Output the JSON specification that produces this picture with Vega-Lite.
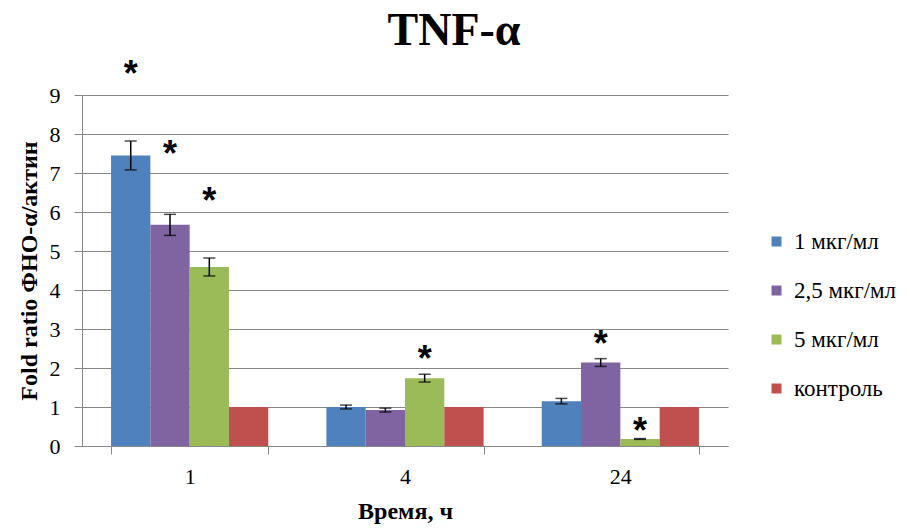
{
  "$schema": "https://vega.github.io/schema/vega-lite/v6.json",
  "width": 646,
  "height": 351,
  "autosize": {"type": "none"},
  "padding": {"left": 82, "top": 95, "right": 182, "bottom": 82},
  "background": "white",
  "config": {
    "view": {"stroke": null},
    "font": "Liberation Serif",
    "legend": {"labelFont": "Liberation Serif", "labelFontSize": 23, "labelColor": "black"},
    "axis": {
      "labelFont": "Liberation Serif",
      "titleFont": "Liberation Serif",
      "labelFontSize": 22,
      "labelColor": "black",
      "titleFontSize": 24,
      "titleFontWeight": "bold",
      "titleColor": "black",
      "tickSize": 8,
      "tickColor": "#878787",
      "domainColor": "#878787"
    }
  },
  "title": {
    "text": "TNF-α",
    "font": "Liberation Serif",
    "fontSize": 46,
    "fontWeight": "bold",
    "color": "black",
    "anchor": "middle",
    "frame": "group",
    "dx": 49,
    "offset": 2
  },
  "data": {
    "values": [
      {"time": "1", "group": "1 мкг/мл", "value": 7.45, "lo": 7.08, "hi": 7.82, "star": 9.77},
      {"time": "1", "group": "2,5 мкг/мл", "value": 5.67, "lo": 5.4, "hi": 5.94, "star": 7.72},
      {"time": "1", "group": "5 мкг/мл", "value": 4.59, "lo": 4.36, "hi": 4.82, "star": 6.51},
      {"time": "1", "group": "контроль", "value": 1.0, "lo": null, "hi": null, "star": null},
      {"time": "4", "group": "1 мкг/мл", "value": 1.0, "lo": 0.95, "hi": 1.05, "star": null},
      {"time": "4", "group": "2,5 мкг/мл", "value": 0.92, "lo": 0.87, "hi": 0.97, "star": null},
      {"time": "4", "group": "5 мкг/мл", "value": 1.74, "lo": 1.64, "hi": 1.84, "star": 2.46},
      {"time": "4", "group": "контроль", "value": 1.0, "lo": null, "hi": null, "star": null},
      {"time": "24", "group": "1 мкг/мл", "value": 1.15, "lo": 1.08, "hi": 1.22, "star": null},
      {"time": "24", "group": "2,5 мкг/мл", "value": 2.14, "lo": 2.04, "hi": 2.24, "star": 2.85},
      {"time": "24", "group": "5 мкг/мл", "value": 0.18, "lo": 0.17, "hi": 0.19, "star": 0.62},
      {"time": "24", "group": "контроль", "value": 1.0, "lo": null, "hi": null, "star": null}
    ]
  },
  "encoding": {
    "x": {
      "field": "time",
      "type": "nominal",
      "sort": ["1", "4", "24"],
      "scale": {"paddingInner": 0.27, "paddingOuter": 0.135},
      "axis": {
        "title": "Время, ч",
        "titlePadding": 12,
        "labelAngle": 0,
        "labelPadding": 12,
        "tickBand": "extent",
        "grid": false
      }
    },
    "xOffset": {
      "field": "group",
      "type": "nominal",
      "sort": ["1 мкг/мл", "2,5 мкг/мл", "5 мкг/мл", "контроль"],
      "scale": {"paddingInner": 0, "paddingOuter": 0}
    }
  },
  "layer": [
    {
      "mark": {"type": "bar", "stroke": null},
      "encoding": {
        "y": {
          "field": "value",
          "type": "quantitative",
          "scale": {"domain": [0, 9], "nice": false},
          "axis": {
            "title": "Fold ratio ФНО-α/актин",
            "titlePadding": 8,
            "values": [0, 1, 2, 3, 4, 5, 6, 7, 8, 9],
            "labelOverlap": false,
            "labelPadding": 14,
            "gridColor": "#878787",
            "gridWidth": 1
          }
        },
        "color": {
          "field": "group",
          "type": "nominal",
          "sort": ["1 мкг/мл", "2,5 мкг/мл", "5 мкг/мл", "контроль"],
          "scale": {
            "domain": ["1 мкг/мл", "2,5 мкг/мл", "5 мкг/мл", "контроль"],
            "range": ["#4F81BD", "#8064A2", "#9BBB59", "#C0504D"]
          },
          "legend": {
            "title": null,
            "orient": "none",
            "legendX": 683,
            "legendY": 135,
            "symbolType": "square",
            "symbolSize": 100,
            "symbolStrokeWidth": 0,
            "labelOffset": 6,
            "rowPadding": 25,
            "labelLimit": 200
          }
        }
      }
    },
    {
      "mark": {"type": "rule", "color": "black", "strokeWidth": 1.5},
      "encoding": {
        "y": {
          "field": "lo",
          "type": "quantitative",
          "axis": {
            "title": "Fold ratio ФНО-α/актин",
            "titlePadding": 8,
            "values": [0, 1, 2, 3, 4, 5, 6, 7, 8, 9],
            "labelOverlap": false,
            "labelPadding": 14,
            "gridColor": "#878787",
            "gridWidth": 1
          }
        },
        "y2": {"field": "hi"}
      }
    },
    {
      "mark": {"type": "tick", "color": "black", "thickness": 1.5, "size": 12},
      "encoding": {
        "y": {
          "field": "lo",
          "type": "quantitative",
          "axis": {
            "title": "Fold ratio ФНО-α/актин",
            "titlePadding": 8,
            "values": [0, 1, 2, 3, 4, 5, 6, 7, 8, 9],
            "labelOverlap": false,
            "labelPadding": 14,
            "gridColor": "#878787",
            "gridWidth": 1
          }
        }
      }
    },
    {
      "mark": {"type": "tick", "color": "black", "thickness": 1.5, "size": 12},
      "encoding": {
        "y": {
          "field": "hi",
          "type": "quantitative",
          "axis": {
            "title": "Fold ratio ФНО-α/актин",
            "titlePadding": 8,
            "values": [0, 1, 2, 3, 4, 5, 6, 7, 8, 9],
            "labelOverlap": false,
            "labelPadding": 14,
            "gridColor": "#878787",
            "gridWidth": 1
          }
        }
      }
    },
    {
      "transform": [{"filter": "datum.star != null"}],
      "mark": {
        "type": "text",
        "text": "*",
        "font": "Liberation Sans",
        "fontSize": 36,
        "fontWeight": "bold",
        "color": "black",
        "baseline": "middle",
        "dy": 10,
        "clip": false
      },
      "encoding": {
        "y": {
          "field": "star",
          "type": "quantitative",
          "axis": {
            "title": "Fold ratio ФНО-α/актин",
            "titlePadding": 8,
            "values": [0, 1, 2, 3, 4, 5, 6, 7, 8, 9],
            "labelOverlap": false,
            "labelPadding": 14,
            "gridColor": "#878787",
            "gridWidth": 1
          }
        }
      }
    }
  ]
}
